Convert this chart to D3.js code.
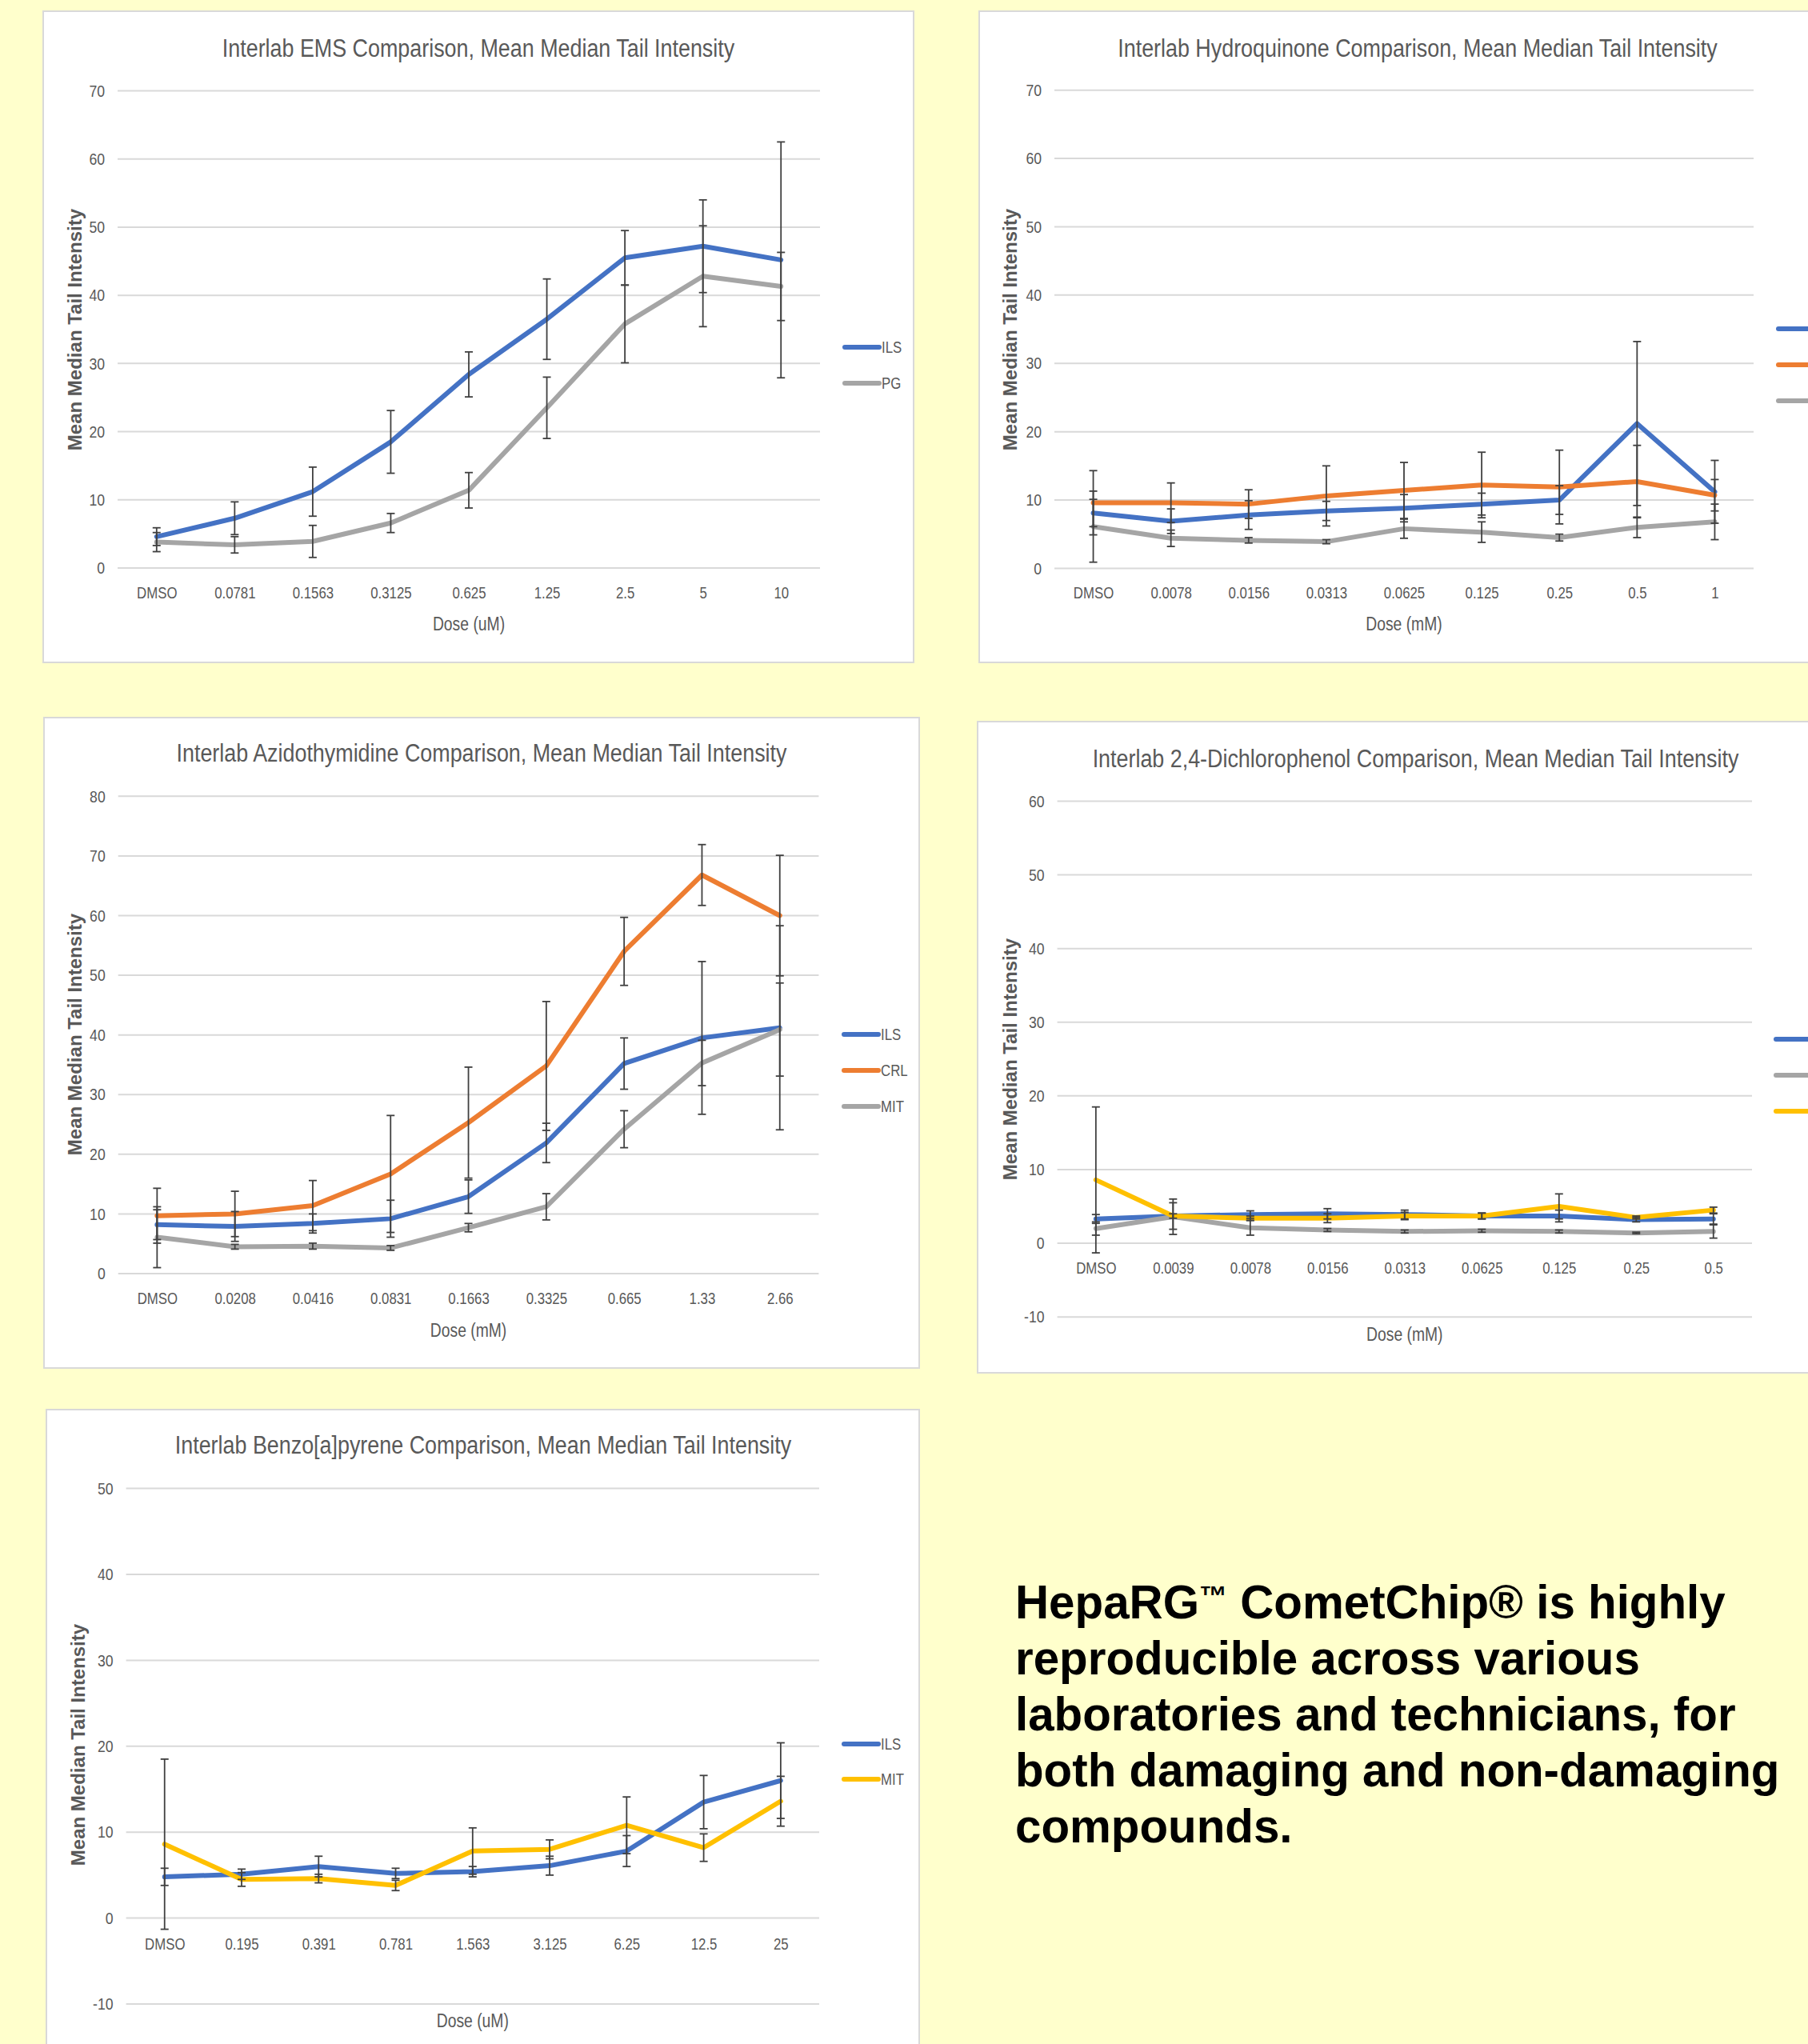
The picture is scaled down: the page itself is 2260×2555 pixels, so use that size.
<!DOCTYPE html>
<html>
<head>
<meta charset="utf-8">
<title>Interlab comparison, mean median tail intensity</title>
<script src="https://cdnjs.cloudflare.com/ajax/libs/d3/7.8.5/d3.min.js"></script>
<style>
  body { margin: 0; background: #FFFFCC; }
  .narrow { font-family: 'Liberation Sans', Arial, sans-serif; fill: #595959; }
  .ylabel { font-family: 'Liberation Sans', Arial, sans-serif; font-weight: bold; fill: #595959; }
  .grid line { stroke: #D9D9D9; stroke-width: 2px; }
  .serie { fill: none; stroke-width: 6px; stroke-linejoin: round; stroke-linecap: round; }
  .err { stroke: #404040; stroke-width: 1.8px; }
</style>
</head>
<body>
<div id="chart"></div>
<script>
// EMS (uM)
var emsDoses = ["DMSO", "0.0781", "0.1563", "0.3125", "0.625", "1.25", "2.5", "5", "10"];
var emsILS = [4.6, 7.3, 11.2, 18.5, 28.4, 36.5, 45.5, 47.2, 45.2];
var emsILSErr = [1.3, 2.4, 3.6, 4.6, 3.3, 5.9, 4.0, 6.8, 17.3];
var emsPG = [3.8, 3.4, 3.9, 6.6, 11.4, 23.5, 35.8, 42.8, 41.3];
var emsPGErr = [1.4, 1.2, 2.35, 1.4, 2.6, 4.5, 5.7, 7.4, 5.0];

// Hydroquinone (mM)
var hqDoses = ["DMSO", "0.0078", "0.0156", "0.0313", "0.0625", "0.125", "0.25", "0.5", "1"];
var hqILS = [8.1, 6.9, 7.8, 8.4, 8.8, 9.4, 10.0, 21.2, 11.2];
var hqILSErr = [2.0, 1.8, 2.1, 1.4, 2.0, 1.6, 2.1, 12.0, 4.6];
var hqCRL = [9.6, 9.6, 9.4, 10.6, 11.4, 12.2, 11.9, 12.7, 10.7];
var hqCRLErr = [4.7, 2.9, 2.1, 4.4, 4.1, 4.8, 5.4, 5.3, 2.3];
var hqMIT = [6.1, 4.4, 4.1, 3.9, 5.8, 5.3, 4.5, 6.0, 6.8];
var hqMITErr = [5.2, 1.2, 0.4, 0.3, 1.4, 1.5, 0.5, 1.5, 2.6];

// Azidothymidine (mM)
var aztDoses = ["DMSO", "0.0208", "0.0416", "0.0831", "0.1663", "0.3325", "0.665", "1.33", "2.66"];
var aztILS = [8.2, 7.9, 8.4, 9.2, 12.9, 21.9, 35.2, 39.5, 41.2];
var aztILSErr = [2.5, 2.5, 1.6, 3.1, 2.8, 3.3, 4.3, 12.8, 17.1];
var aztCRL = [9.7, 10.0, 11.4, 16.7, 25.3, 34.8, 54.0, 66.8, 60.0];
var aztCRLErr = [4.6, 3.8, 4.2, 9.8, 9.3, 10.8, 5.7, 5.1, 10.1];
var aztMIT = [6.1, 4.5, 4.6, 4.3, 7.7, 11.2, 24.2, 35.3, 40.9];
var aztMITErr = [5.1, 0.4, 0.5, 0.4, 0.7, 2.2, 3.1, 3.8, 7.8];

// 2,4-Dichlorophenol (mM)
var dcpDoses = ["DMSO", "0.0039", "0.0078", "0.0156", "0.0313", "0.0625", "0.125", "0.25", "0.5"];
var dcpILS = [3.3, 3.7, 3.9, 4.0, 3.9, 3.7, 3.7, 3.2, 3.3];
var dcpILSErr = [0.6, 0.3, 0.5, 0.7, 0.6, 0.4, 0.8, 0.3, 0.7];
var dcpPG = [2.0, 3.6, 2.1, 1.8, 1.6, 1.7, 1.6, 1.4, 1.6];
var dcpPGErr = [0.9, 2.4, 1.0, 0.2, 0.2, 0.2, 0.2, 0.1, 0.9];
var dcpMIT = [8.6, 3.7, 3.4, 3.4, 3.7, 3.7, 5.0, 3.5, 4.5];
var dcpMITErr = [9.9, 1.8, 0.3, 0.6, 0.5, 0.4, 1.7, 0.2, 0.4];

// Benzo[a]pyrene (uM)
var bapDoses = ["DMSO", "0.195", "0.391", "0.781", "1.563", "3.125", "6.25", "12.5", "25"];
var bapILS = [4.8, 5.1, 6.0, 5.2, 5.4, 6.1, 7.8, 13.5, 16.0];
var bapILSErr = [1.0, 0.6, 1.2, 0.6, 0.6, 1.1, 1.8, 3.1, 4.4];
var bapMIT = [8.6, 4.5, 4.6, 3.8, 7.8, 8.0, 10.8, 8.2, 13.6];
var bapMITErr = [9.9, 0.8, 0.5, 0.6, 2.7, 1.1, 3.3, 1.6, 2.9];

var farben = { blau: "#4472C4", orange: "#ED7D31", grau: "#A5A5A5", gelb: "#FFC000" };

var breite = 2260, hoehe = 2555;
var svg = d3.select("#chart").append("svg")
  .attr("width", breite).attr("height", hoehe);
svg.append("rect").attr("width", breite).attr("height", hoehe).attr("fill", "#FFFFCC");

// schmale Schrift nachbilden: Glyphen horizontal stauchen
function stauchen(sel, f) {
  sel.each(function () {
    var w = this.getComputedTextLength();
    d3.select(this).attr("textLength", w * f).attr("lengthAdjust", "spacingAndGlyphs");
  });
}

function panel(p) {
  var g = svg.append("g");
  // Rahmen rechts am Bildrand abschneiden (wie im Original)
  var rechts = Math.min(p.box[0] + p.box[2], breite + 1);
  var unten = Math.min(p.box[1] + p.box[3], hoehe + 1);
  g.append("rect")
    .attr("x", p.box[0]).attr("y", p.box[1])
    .attr("width", rechts - p.box[0]).attr("height", unten - p.box[1])
    .attr("fill", "#fff").attr("stroke", "#D9D9D9").attr("stroke-width", 2);

  var x = d3.scalePoint().domain(p.doses).range([p.plot[0], p.plot[1]]).padding(0.5);
  var y = d3.scaleLinear().domain(p.yDomain).range([p.plot[3], p.plot[2]]);
  var ticks = d3.range(p.yDomain[0], p.yDomain[1] + 1, 10);

  var grid = g.append("g").attr("class", "grid");
  grid.selectAll("line").data(ticks).enter().append("line")
    .attr("x1", p.plot[0]).attr("x2", p.plot[1])
    .attr("y1", function (d) { return y(d); }).attr("y2", function (d) { return y(d); });

  var yAxis = d3.axisLeft(y).tickValues(ticks).tickSize(0).tickPadding(16)
    .tickFormat(function (d) { return String(d); });
  g.append("g").attr("transform", "translate(" + p.plot[0] + ",0)").call(yAxis)
    .call(function (a) { a.select(".domain").remove(); })
    .selectAll("text").attr("class", "narrow").attr("font-size", 21).attr("fill", null)
    .call(stauchen, 0.84);

  var xAxis = d3.axisBottom(x).tickSize(0).tickPadding(0);
  g.append("g").attr("transform", "translate(0," + p.xLabelY + ")").call(xAxis)
    .call(function (a) { a.select(".domain").remove(); })
    .selectAll("text").attr("class", "narrow").attr("font-size", 20).attr("fill", null)
    .attr("dy", "0.35em").attr("y", 0)
    .call(stauchen, 0.84);

  g.append("text").attr("class", "narrow").attr("font-size", 31)
    .attr("x", p.titleX).attr("y", p.titleY).attr("text-anchor", "middle").attr("dy", "0.35em")
    .text(p.title)
    .call(stauchen, 0.867);

  g.append("text").attr("class", "narrow").attr("font-size", 23)
    .attr("x", (p.plot[0] + p.plot[1]) / 2).attr("y", p.xTitleY).attr("text-anchor", "middle").attr("dy", "0.35em")
    .text(p.xTitle)
    .call(stauchen, 0.84);

  g.append("text").attr("class", "ylabel").attr("font-size", 24)
    .attr("transform", "translate(" + p.yLabel[0] + "," + p.yLabel[1] + ") rotate(-90)")
    .attr("text-anchor", "middle").attr("dy", "0.35em")
    .text("Mean Median Tail Intensity");

  var linie = d3.line()
    .x(function (d) { return x(d.dose); })
    .y(function (d) { return y(d.wert); });

  var punkte = p.series.map(function (s) {
    return p.doses.map(function (dose, i) { return { dose: dose, wert: s.werte[i], err: s.err[i] }; });
  });

  p.series.forEach(function (s, k) {
    g.append("path").datum(punkte[k]).attr("class", "serie").attr("stroke", s.farbe).attr("d", linie);
  });

  punkte.forEach(function (pts) {
    var eb = g.append("g").attr("class", "err");
    eb.selectAll("line.v").data(pts).enter().append("line").attr("class", "v")
      .attr("x1", function (d) { return x(d.dose); }).attr("x2", function (d) { return x(d.dose); })
      .attr("y1", function (d) { return y(d.wert + d.err); }).attr("y2", function (d) { return y(d.wert - d.err); });
    [1, -1].forEach(function (sgn) {
      var cls = sgn > 0 ? "co" : "cu";
      eb.selectAll("line." + cls).data(pts).enter().append("line").attr("class", cls)
        .attr("x1", function (d) { return x(d.dose) - 5; }).attr("x2", function (d) { return x(d.dose) + 5; })
        .attr("y1", function (d) { return y(d.wert + sgn * d.err); })
        .attr("y2", function (d) { return y(d.wert + sgn * d.err); });
    });
  });

  p.series.forEach(function (s, i) {
    var ly = p.legend[1] + i * p.legend[2];
    g.append("line").attr("x1", p.legend[0]).attr("x2", Math.min(p.legend[0] + 43, breite))
      .attr("y1", ly).attr("y2", ly)
      .attr("stroke", s.farbe).attr("stroke-width", 6).attr("stroke-linecap", "round");
    // Legendentext nur dort, wo er im Bild noch Platz hat
    if (p.legend[0] + 46 < breite - 30) {
      g.append("text").attr("class", "narrow").attr("font-size", 20)
        .attr("x", p.legend[0] + 46).attr("y", ly).attr("dy", "0.35em").text(s.name)
        .call(stauchen, 0.84);
    }
  });
}

panel({
  box: [54, 14, 1088, 814], plot: [147, 1025, 113.5, 710], yDomain: [0, 70],
  doses: emsDoses, xLabelY: 741, xTitleY: 780, xTitle: "Dose (uM)",
  title: "Interlab EMS Comparison, Mean Median Tail Intensity", titleX: 598, titleY: 60,
  yLabel: [93.5, 412], legend: [1056, 434, 45],
  series: [
    { name: "ILS", werte: emsILS, err: emsILSErr, farbe: farben.blau },
    { name: "PG", werte: emsPG, err: emsPGErr, farbe: farben.grau }
  ]
});

panel({
  box: [1224, 14, 1100, 814], plot: [1318, 2192, 112.7, 710.4], yDomain: [0, 70],
  doses: hqDoses, xLabelY: 741, xTitleY: 780, xTitle: "Dose (mM)",
  title: "Interlab Hydroquinone Comparison, Mean Median Tail Intensity", titleX: 1772, titleY: 60,
  yLabel: [1263, 412], legend: [2223, 411, 45],
  series: [
    { name: "ILS", werte: hqILS, err: hqILSErr, farbe: farben.blau },
    { name: "CRL", werte: hqCRL, err: hqCRLErr, farbe: farben.orange },
    { name: "MIT", werte: hqMIT, err: hqMITErr, farbe: farben.grau }
  ]
});

panel({
  box: [55, 897, 1094, 813], plot: [147.7, 1023.4, 995.3, 1592], yDomain: [0, 80],
  doses: aztDoses, xLabelY: 1623, xTitleY: 1663, xTitle: "Dose (mM)",
  title: "Interlab Azidothymidine Comparison, Mean Median Tail Intensity", titleX: 602, titleY: 941,
  yLabel: [94, 1293], legend: [1055, 1293, 45],
  series: [
    { name: "ILS", werte: aztILS, err: aztILSErr, farbe: farben.blau },
    { name: "CRL", werte: aztCRL, err: aztCRLErr, farbe: farben.orange },
    { name: "MIT", werte: aztMIT, err: aztMITErr, farbe: farben.grau }
  ]
});

panel({
  box: [1222, 902, 1100, 814], plot: [1321.6, 2190, 1001.4, 1646.2], yDomain: [-10, 60],
  doses: dcpDoses, xLabelY: 1585, xTitleY: 1668, xTitle: "Dose (mM)",
  title: "Interlab 2,4-Dichlorophenol Comparison, Mean Median Tail Intensity", titleX: 1769.5, titleY: 948,
  yLabel: [1263, 1324], legend: [2220, 1299, 45],
  series: [
    { name: "ILS", werte: dcpILS, err: dcpILSErr, farbe: farben.blau },
    { name: "PG", werte: dcpPG, err: dcpPGErr, farbe: farben.grau },
    { name: "MIT", werte: dcpMIT, err: dcpMITErr, farbe: farben.gelb }
  ]
});

panel({
  box: [58, 1762, 1091, 820], plot: [157.6, 1024, 1860.6, 2505], yDomain: [-10, 50],
  doses: bapDoses, xLabelY: 2429.5, xTitleY: 2526, xTitle: "Dose (uM)",
  title: "Interlab Benzo[a]pyrene Comparison, Mean Median Tail Intensity", titleX: 604, titleY: 1806,
  yLabel: [98, 2181], legend: [1055, 2180, 44],
  series: [
    { name: "ILS", werte: bapILS, err: bapILSErr, farbe: farben.blau },
    { name: "MIT", werte: bapMIT, err: bapMITErr, farbe: farben.gelb }
  ]
});

// Fazit-Text; das (TM)-Zeichen kleiner und hochgestellt
var satz = [["HepaRG", "\u2122", " CometChip\u00AE is highly"], ["reproducible across various"],
  ["laboratories and technicians, for"], ["both damaging and non-damaging"], ["compounds."]];
var zeilen = svg.append("g").selectAll("text").data(satz).enter().append("text")
  .attr("x", 1269).attr("y", function (d, i) { return 2023 + i * 70; })
  .attr("font-family", "'Liberation Sans', Arial, sans-serif").attr("font-weight", "bold")
  .attr("font-size", 58.3).attr("fill", "#000");
zeilen.each(function (teile) {
  var t = d3.select(this);
  teile.forEach(function (teil, j) {
    var ts = t.append("tspan").text(teil);
    if (j === 1) ts.attr("font-size", 35).attr("dy", -16);
    if (j === 2) ts.attr("dy", 16);
  });
});
</script>
</body>
</html>
